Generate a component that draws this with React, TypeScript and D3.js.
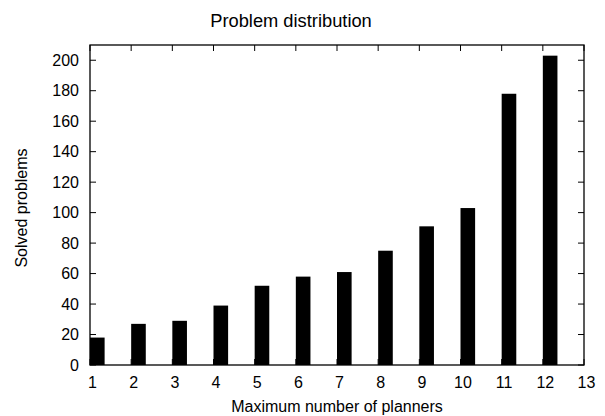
import React from "react";
import * as d3 from "d3";

const categories = [1, 2, 3, 4, 5, 6, 7, 8, 9, 10, 11, 12];
const solved = [18, 27, 29, 39, 52, 58, 61, 75, 91, 103, 178, 203];
const xTicks = [1, 2, 3, 4, 5, 6, 7, 8, 9, 10, 11, 12, 13];
const yTicks = [0, 20, 40, 60, 80, 100, 120, 140, 160, 180, 200];

const W = 605;
const H = 416;
const margin = { left: 90, right: 21, top: 45, bottom: 51 };
const BOX = 0.355;
const TICK = 6;
const FONT = "'Liberation Sans', Arial, Helvetica, sans-serif";

export default function App() {
  const x = d3.scaleLinear().domain([1, 13]).range([margin.left, W - margin.right]);
  const y = d3.scaleLinear().domain([0, 210]).range([H - margin.bottom, margin.top]);
  const [x0, x1] = x.range();
  const [y0, y1] = y.range();

  return (
    <svg
      width={W}
      height={H}
      style={{ position: "absolute", left: 0, top: 0, display: "block", background: "#fff" }}
      fontFamily={FONT}
    >
      <text x={291} y={26.5} fontSize={18.3} textAnchor="middle" fill="#000">
        Problem distribution
      </text>

      {categories.map((c, i) => (
        <rect
          key={c}
          x={x(c)}
          y={y(solved[i])}
          width={x(c + BOX) - x(c)}
          height={y(0) - y(solved[i])}
          fill="#000"
        />
      ))}

      <g stroke="#000" strokeWidth={1}>
        {yTicks.map((t) => (
          <g key={t}>
            <line x1={x0} x2={x0 + TICK} y1={y(t)} y2={y(t)} />
            <line x1={x1} x2={x1 - TICK} y1={y(t)} y2={y(t)} />
          </g>
        ))}
        {xTicks.map((t) => (
          <g key={t}>
            <line x1={x(t)} x2={x(t)} y1={y1} y2={y1 + TICK} />
            <line x1={x(t)} x2={x(t)} y1={y0} y2={y0 - TICK} />
          </g>
        ))}
        <rect x={x0} y={y1} width={x1 - x0} height={y0 - y1} fill="none" strokeWidth={1.3} />
      </g>

      <g fontSize={16} fill="#000">
        {yTicks.map((t) => (
          <text key={t} x={79} y={y(t) + 5.5} textAnchor="end">
            {t}
          </text>
        ))}
        {xTicks.map((t) => (
          <text key={t} x={x(t) + 2.5} y={387.5} textAnchor="middle">
            {t}
          </text>
        ))}
        <text x={(x0 + x1) / 2} y={411.5} textAnchor="middle">
          Maximum number of planners
        </text>
        <text
          transform={`translate(27, ${(y0 + y1) / 2 + 3}) rotate(-90)`}
          textAnchor="middle"
        >
          Solved problems
        </text>
      </g>
    </svg>
  );
}
